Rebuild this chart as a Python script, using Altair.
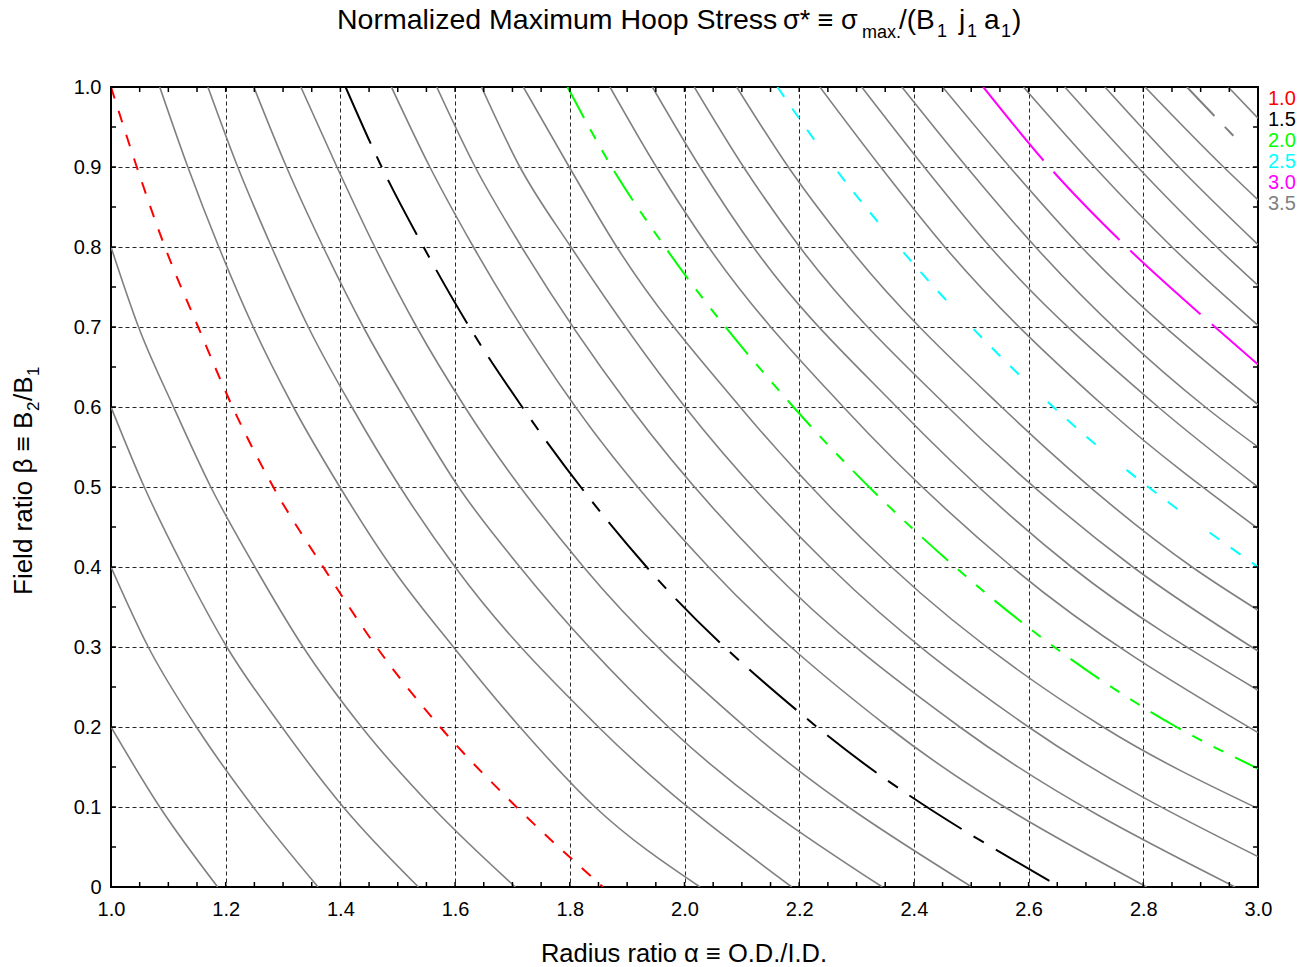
import altair as alt
import pandas as pd

# ---------------- data ----------------
LEVELS = ["0.6", "0.7", "0.8", "0.9", "1.0", "1.1", "1.2", "1.3", "1.4", "1.5",
          "1.6", "1.7", "1.8", "1.9", "2.0", "2.1", "2.2", "2.3", "2.4", "2.5",
          "2.6", "2.7", "2.8", "2.9", "3.0", "3.1", "3.2", "3.3", "3.4", "3.5", "3.6"]
N = None
# alpha where each contour crosses a given beta gridline (None = no crossing)
ALPHA_B10 = [N, N, N, N, 1.000, 1.085, 1.169, 1.249, 1.331, 1.409, 1.489, 1.568, 1.646, 1.719, 1.796, 1.870,
             1.944, 2.017, 2.091, 2.162, 2.236, 2.309, 2.379, 2.450, 2.521, 2.591, 2.663, 2.733, 2.803, 2.876, 2.948]
ALPHA_B09 = [N, N, N, N, 1.045, 1.134, 1.221, 1.306, 1.394, 1.472, 1.556, 1.635, 1.713, 1.799, 1.873, 1.951,
             2.027, 2.103, 2.181, 2.261, 2.342, 2.418, 2.492, 2.567, 2.636, 2.715, 2.790, 2.862, 2.940, N, N]
ALPHA_B08 = [N, N, N, 1.000, 1.094, 1.188, 1.280, 1.370, 1.460, 1.545, 1.632, 1.716, 1.802, 1.882, 1.966, 2.042,
             2.120, 2.201, 2.286, 2.374, 2.454, 2.533, 2.612, 2.692, 2.771, 2.850, 2.928, N, N, N, N]
ALPHA_B07 = [N, N, N, 1.048, 1.152, 1.248, 1.344, 1.440, 1.533, 1.625, N, N, N, N, N, N,
             N, N, N, N, N, N, N, N, 2.925, N, N, N, N, N, N]
ALPHA_B06 = [N, N, 1.000, 1.109, 1.212, 1.318, 1.420, 1.520, 1.617, 1.717, 1.810, 1.905, 2.001, 2.097, 2.190, 2.277,
             2.370, 2.459, 2.553, 2.643, 2.733, 2.826, 2.908, N, N, N, N, N, N, N, N]
ALPHA_B05 = [N, N, 1.058, 1.174, 1.283, 1.399, 1.504, 1.606, N, N, N, N, N, N, N, N,
             N, N, N, N, N, N, N, N, N, N, N, N, N, N, N]
ALPHA_B04 = [N, 1.000, 1.126, 1.251, 1.370, 1.489, 1.600, 1.713, 1.824, 1.934, 2.042, 2.146, 2.254, 2.361, 2.472, 2.571,
             2.675, 2.782, 2.885, N, N, N, N, N, N, N, N, N, N, N, N]
ALPHA_B03 = [N, 1.065, 1.202, 1.335, 1.463, 1.597, N, N, N, N, N, N, N, N, N, N,
             N, N, N, N, N, N, N, N, N, N, N, N, N, N, N]
ALPHA_B02 = [1.000, 1.149, 1.298, 1.437, 1.574, 1.713, 1.850, 1.972, 2.106, 2.231, 2.355, 2.480, 2.600, 2.730, 2.858, N,
             N, N, N, N, N, N, N, N, N, N, N, N, N, N, N]
ALPHA_B01 = [1.085, 1.248, 1.405, 1.560, 1.707, 1.844, N, N, N, N, N, N, N, N, N, N,
             N, N, N, N, N, N, N, N, N, N, N, N, N, N, N]
ALPHA_B00 = [1.186, 1.361, 1.536, 1.705, 1.858, 2.027, 2.187, 2.345, 2.501, 2.655, 2.806, 2.960, N, N, N, N,
             N, N, N, N, N, N, N, N, N, N, N, N, N, N, N]
# beta where each contour leaves through the right edge (alpha = 3.0)
BETA_RIGHT = [N, N, N, N, N, N, N, N, N, N, N, N, 0.038, 0.098, 0.148, 0.193,
              0.246, 0.295, 0.346, 0.400, 0.448, 0.500, 0.550, 0.603, 0.653, 0.702, 0.752, 0.803, 0.859, N, 0.961]
# the dashed 3.5 contour stops short of the edge
END_35 = (2.957, 0.939)

ROWS = [(1.0, ALPHA_B10), (0.9, ALPHA_B09), (0.8, ALPHA_B08), (0.7, ALPHA_B07), (0.6, ALPHA_B06),
        (0.5, ALPHA_B05), (0.4, ALPHA_B04), (0.3, ALPHA_B03), (0.2, ALPHA_B02), (0.1, ALPHA_B01),
        (0.0, ALPHA_B00)]

HIGHLIGHT = ["1.0", "1.5", "2.0", "2.5", "3.0", "3.5"]
HIGHLIGHT_COLORS = ["#ff0000", "#000000", "#00ff00", "#00ffff", "#ff00ff", "#808080"]
HIGHLIGHT_DASH = [[12, 13], [62, 14, 12, 14], [35, 13, 11, 13, 11, 13],
                  [12, 14, 12, 14, 12, 40], [95, 15], [40, 15, 14, 15]]

X_LABELS = [1.0, 1.2, 1.4, 1.6, 1.8, 2.0, 2.2, 2.4, 2.6, 2.8, 3.0]
Y_LABELS = [0.0, 0.1, 0.2, 0.3, 0.4, 0.5, 0.6, 0.7, 0.8, 0.9, 1.0]
X_MINOR = [round(1.0 + 0.05 * i, 2) for i in range(41)]
Y_MINOR = [round(0.05 * i, 2) for i in range(21)]

# ---------------- build table ----------------
recs = []
for beta, alphas in ROWS:
    for lev, a in zip(LEVELS, alphas):
        if a is not None:
            recs.append({"lev": lev, "alpha": a, "beta": beta})
for lev, b in zip(LEVELS, BETA_RIGHT):
    if b is not None:
        recs.append({"lev": lev, "alpha": 3.0, "beta": b})
recs.append({"lev": "3.5", "alpha": END_35[0], "beta": END_35[1]})
df = pd.DataFrame(recs)

W, H = 1147, 800
FONT = "Liberation Sans"

xscale = alt.Scale(domain=[1.0, 3.0], nice=False, zero=False)
yscale = alt.Scale(domain=[0.0, 1.0], nice=False, zero=False)

base = alt.Chart(df)

grid_layer = alt.Chart(pd.DataFrame({"a": [1.0], "b": [0.0]})).mark_point(opacity=0).encode(
    x=alt.X("a:Q", scale=xscale,
            axis=alt.Axis(values=X_LABELS, format=".1f", grid=True, gridDash=[4, 3], gridColor="#000000",
                          gridOpacity=0.85, gridWidth=1, ticks=False, tickSize=0, domain=False,
                          labelFlush=False, labelOverlap=False, labelBound=False,
                          labelPadding=12, labelFont=FONT, labelFontSize=20, labelColor="black", title=None)),
    y=alt.Y("b:Q", scale=yscale,
            axis=alt.Axis(values=Y_LABELS, labelExpr="datum.value == 0 ? '0' : format(datum.value, '.1f')",
                          grid=True, gridDash=[4, 3], gridColor="#000000", gridOpacity=0.85, gridWidth=1,
                          ticks=False, tickSize=0, domain=False, labelPadding=10, labelFont=FONT,
                          labelFlush=False, labelOverlap=False, labelBound=False,
                          labelFontSize=20, labelColor="black", title=None)),
)

gray = base.transform_filter(
    ~alt.FieldOneOfPredicate(field="lev", oneOf=HIGHLIGHT)
).mark_line(color="#808080", strokeWidth=1.6, interpolate="monotone", clip=True).encode(
    x=alt.X("alpha:Q", scale=xscale), y=alt.Y("beta:Q", scale=yscale),
    detail="lev:N", order=alt.Order("alpha:Q"))

layers = [grid_layer, gray]
for lev, col, dash in zip(HIGHLIGHT, HIGHLIGHT_COLORS, HIGHLIGHT_DASH):
    layers.append(base.transform_filter(alt.datum.lev == lev).mark_line(
        color=col, strokeWidth=2, strokeDash=dash, interpolate="monotone", clip=True).encode(
        x=alt.X("alpha:Q", scale=xscale), y=alt.Y("beta:Q", scale=yscale), order=alt.Order("alpha:Q")))

# inward ticks on all four sides
xt = alt.Chart(pd.DataFrame({"v": X_MINOR}))
yt = alt.Chart(pd.DataFrame({"v": Y_MINOR}))
TL = 5
layers.append(xt.mark_rule(color="black", strokeWidth=1.5).encode(
    x=alt.X("v:Q", scale=xscale), y=alt.value(H), y2=alt.value(H - TL)))
layers.append(xt.mark_rule(color="black", strokeWidth=1.5).encode(
    x=alt.X("v:Q", scale=xscale), y=alt.value(0), y2=alt.value(TL)))
layers.append(yt.mark_rule(color="black", strokeWidth=1.5).encode(
    y=alt.Y("v:Q", scale=yscale), x=alt.value(0), x2=alt.value(TL)))
layers.append(yt.mark_rule(color="black", strokeWidth=1.5).encode(
    y=alt.Y("v:Q", scale=yscale), x=alt.value(W), x2=alt.value(W - TL)))

# colored legend texts
for i, (lab, col) in enumerate(zip(HIGHLIGHT, HIGHLIGHT_COLORS)):
    layers.append(alt.Chart(pd.DataFrame({"t": [0]})).mark_text(
        text=lab, color=col, font=FONT, fontSize=20, align="left", baseline="middle").encode(
        x=alt.value(1157), y=alt.value(12 + 21 * i)))

one = pd.DataFrame({"t": [0]})


def txt(s, x, y, size, angle=0, align="left", baseline="alphabetic"):
    kw = dict(text=s, font=FONT, fontSize=size, align=align, baseline=baseline, color="black")
    if angle:
        kw["angle"] = angle
    return alt.Chart(one).mark_text(**kw).encode(x=alt.value(x), y=alt.value(y))


# title with subscripts (page coordinates minus plot origin 111,87)
OX, OY = 111, 87
TY = 29 - OY
layers += [
    txt("Normalized Maximum Hoop Stress", 337 - OX, TY, 28.5),
    txt("σ* ≡ σ", 783 - OX, TY, 27),
    txt("max.", 862 - OX, TY + 9, 18),
    txt("/(B", 899 - OX, TY, 28),
    txt("1", 937 - OX, TY + 8, 18),
    txt("j", 959 - OX, TY, 28),
    txt("1", 967 - OX, TY + 8, 18),
    txt("a", 984 - OX, TY, 28),
    txt("1", 1001 - OX, TY + 8, 18),
    txt(")", 1012 - OX, TY, 28),
]
# x axis title
layers.append(txt("Radius ratio α ≡ O.D./I.D.", 684 - OX, 962 - OY, 25.5, align="center"))
# y axis title (rotated) with subscripts
YB = 32 - OX
layers += [
    txt("Field ratio β ≡ B", YB, 595 - OY, 26, angle=270),
    txt("2", YB + 7, 411 - OY, 17, angle=270),
    txt("/B", YB, 401 - OY, 26, angle=270),
    txt("1", YB + 7, 376 - OY, 17, angle=270),
]

chart = alt.layer(*layers).properties(
    width=W, height=H,
    padding={"left": 111, "top": 87, "right": 53, "bottom": 80},
    autosize=alt.AutoSizeParams(type="none"),
).configure_view(stroke="black", strokeWidth=2)

chart.save("out.html", embed_options={"renderer": "svg", "actions": False})
